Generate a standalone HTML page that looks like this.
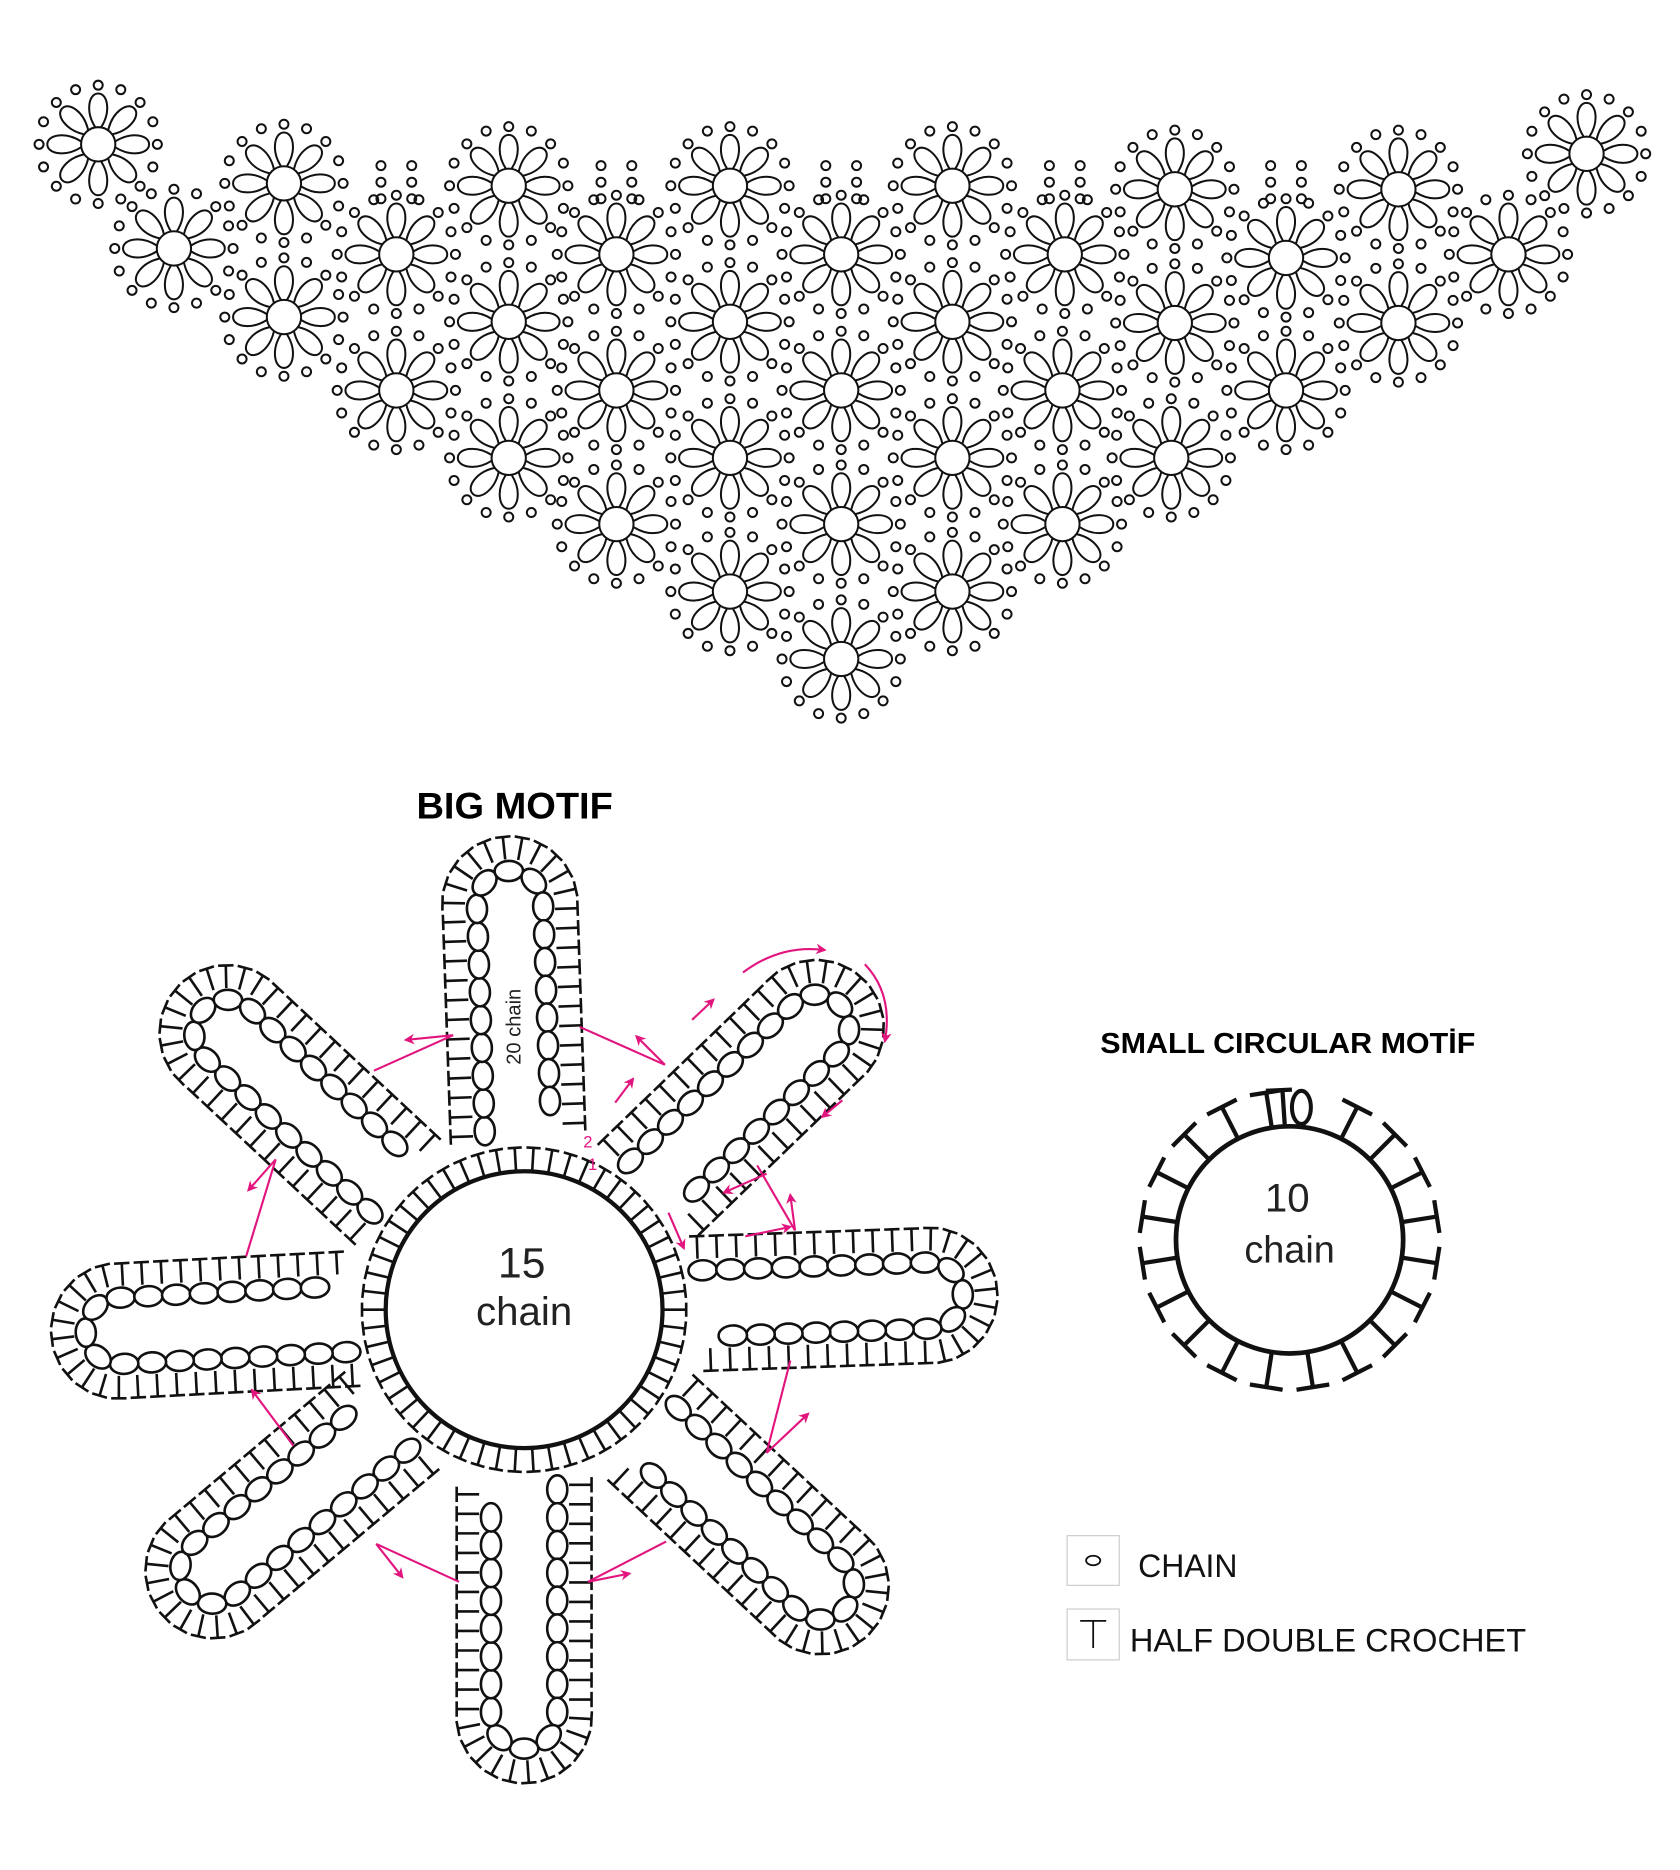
<!DOCTYPE html>
<html><head><meta charset="utf-8">
<style>
html,body{margin:0;padding:0;background:#fff;}
svg{display:block;}
text{font-family:"Liberation Sans",sans-serif;}
</style></head>
<body>
<svg id="s" xmlns="http://www.w3.org/2000/svg" width="1680" height="1870" viewBox="0 0 1420 1580.6">
<defs>
<marker id="ah" viewBox="0 0 10 10" refX="8" refY="5" markerWidth="5" markerHeight="5" orient="auto-start-reverse">
<path d="M0,0 L10,5 L0,10 L3,5 Z" fill="#e2157f"/></marker>
</defs>
<rect width="1420" height="1581" fill="#fff"/>
<g id="gtop" fill="none" stroke="#111" stroke-width="1.7"></g>
<g id="gbig" fill="none" stroke="#111"></g>
<g id="gsmall" fill="none" stroke="#111"></g>
<g id="pink" fill="none" stroke="#e2157f" stroke-width="1.8">
<path d="M316,905 L383,875" /><path d="M383,875 L343,879" marker-end="url(#ah)"/>
<path d="M490,868 L562,900"/><path d="M562,900 L538,876" marker-end="url(#ah)"/>
<path d="M233,980 L208,1062"/><path d="M233,980 L210,1006" marker-end="url(#ah)"/>
<path d="M640,985 L672,1040"/><path d="M672,1040 L668,1010" marker-end="url(#ah)"/>
<path d="M648,992 L612,1008" marker-end="url(#ah)"/>
<path d="M630,1045 L668,1037" marker-end="url(#ah)"/>
<path d="M668,1150 L648,1228"/><path d="M648,1228 L683,1195" marker-end="url(#ah)"/>
<path d="M248,1222 L213,1175" marker-end="url(#ah)"/>
<path d="M318,1305 L388,1337"/><path d="M318,1305 L340,1333" marker-end="url(#ah)"/>
<path d="M563,1303 L497,1337"/><path d="M497,1337 L532,1330" marker-end="url(#ah)"/>
<path d="M628,822 Q660,798 697,803" marker-end="url(#ah)"/>
<path d="M731,815 Q755,840 748,880" marker-end="url(#ah)"/>
<path d="M585,862 L603,845" marker-end="url(#ah)"/>
<path d="M520,932 L535,912" marker-end="url(#ah)"/>
<path d="M565,1025 L578,1055" marker-end="url(#ah)"/>
<path d="M712,930 L695,944" marker-end="url(#ah)"/>
</g>
<g fill="#e2157f" font-size="14"><text x="493" y="970">2</text><text x="497" y="989">1</text></g>
<text x="352" y="692" font-size="31" font-weight="bold" fill="#000" textLength="166" lengthAdjust="spacingAndGlyphs">BIG MOTIF</text>
<text x="930" y="890" font-size="24" font-weight="bold" fill="#000" textLength="317" lengthAdjust="spacingAndGlyphs">SMALL CIRCULAR MOTİF</text>
<text x="441" y="1080" font-size="36" text-anchor="middle" fill="#222">15</text>
<text x="443" y="1120" font-size="34" text-anchor="middle" fill="#222">chain</text>
<text x="1088" y="1024" font-size="34" text-anchor="middle" fill="#222">10</text>
<text x="1090" y="1067" font-size="32" text-anchor="middle" fill="#222">chain</text>
<text transform="translate(440,900) rotate(-90)" font-size="17" fill="#222">20 chain</text>
<rect x="902" y="1298" width="44" height="42" fill="none" stroke="#ccc" stroke-width="1"/>
<ellipse cx="924" cy="1319" rx="6" ry="4" fill="none" stroke="#111" stroke-width="1.5"/>
<text x="962" y="1333" font-size="27" fill="#111">CHAIN</text>
<rect x="902" y="1360" width="44" height="43" fill="none" stroke="#ccc" stroke-width="1"/>
<path d="M913,1370 H935 M924,1370 V1393" stroke="#111" stroke-width="1.5"/>
<text x="955" y="1396" font-size="27" fill="#111" textLength="335" lengthAdjust="spacingAndGlyphs">HALF DOUBLE CROCHET</text>
</svg>
<script>
(function(){
var NS="http://www.w3.org/2000/svg";
function el(p,tag,a){var e=document.createElementNS(NS,tag);for(var k in a)e.setAttribute(k,a[k]);p.appendChild(e);return e;}
var gt=document.getElementById('gtop');
var F=[[83,122],[240,155],[430,157],[617,157],[805,157],[993,160],[1182,160],[1341,130],
[147,210],[335,215],[521,215],[711,215],[900,215],[1087,218],[1275,215],
[240,268],[430,272],[617,272],[805,272],[993,273],[1182,273],
[335,330],[521,330],[711,330],[898,330],[1087,330],
[430,387],[617,387],[805,387],[990,387],
[521,443],[711,443],[898,443],[617,500],[805,500],[711,557]];
F.forEach(function(c){
 var g=el(gt,'g',{transform:'translate('+c[0]+','+c[1]+')'});
 el(g,'circle',{cx:0,cy:0,r:14.5});
 for(var i=0;i<8;i++){
  el(g,'path',{d:'M-2.5,-14.5 C-11,-28 -8,-43 0,-43 C8,-43 11,-28 2.5,-14.5',transform:'rotate('+(i*45)+')'});
 }
 for(var j=0;j<16;j++){var a=j*Math.PI/8;el(g,'circle',{cx:(50*Math.sin(a)).toFixed(1),cy:(-50*Math.cos(a)).toFixed(1),r:3.8});}
});
[335,521,711,900,1087].forEach(function(x){for(var r=0;r<3;r++)for(var k=-1;k<=1;k+=2)el(gt,'circle',{cx:x+k*13,cy:140+r*14,r:3.8});});
var gb=document.getElementById('gbig');var cx=443,cy=1107;
el(gb,'circle',{cx:cx,cy:cy,r:117,'stroke-width':3.6});
for(var i=0;i<54;i++){var a=i*2*Math.PI/54,ca=Math.cos(a),sa=Math.sin(a);
 el(gb,'line',{x1:cx+117*ca,y1:cy+117*sa,x2:cx+137*ca,y2:cy+137*sa,'stroke-width':2.2});
 var tx=-sa,ty=ca,px=cx+137*ca,py=cy+137*sa;
 el(gb,'line',{x1:px-6*tx,y1:py-6*ty,x2:px+6*tx,y2:py+6*ty,'stroke-width':2.2});}
function stadium(a,b,h,step,offset){
 var pts=[];var L1=b-h-a,L2=Math.PI*h,L=2*L1+L2;
 for(var s=offset;s<L-2;s+=step){
  var x,y,tx,ty;
  if(s<L1){x=a+s;y=-h;tx=1;ty=0;}
  else if(s<L1+L2){var t=(s-L1)/h-Math.PI/2;x=b-h+h*Math.cos(t);y=h*Math.sin(t);tx=-Math.sin(t);ty=Math.cos(t);}
  else{x=b-h-(s-L1-L2);y=h;tx=-1;ty=0;}
  pts.push([x,y,tx,ty]);
 }
 return pts;
}
function petal(ang){
 var g=el(gb,'g',{transform:'translate('+cx+','+cy+') rotate('+ang+')','stroke-width':2.2});
 var a=142,b=400,h=57;
 stadium(a,b,h,16.5,6).forEach(function(p){
  var nx=-p[3],ny=p[2];
  el(g,'line',{x1:p[0]-6.5*p[2],y1:p[1]-6.5*p[3],x2:p[0]+6.5*p[2],y2:p[1]+6.5*p[3]});
  el(g,'line',{x1:p[0],y1:p[1],x2:p[0]+19*nx,y2:p[1]+19*ny});
 });
 var h2=h-29,a2=a+10;
 var L=2*(b-29-h2-a2)+Math.PI*h2;var n=Math.round(L/23);var st=L/n;
 stadium(a2,b-29,h2,st,0.01).forEach(function(p){
  var an=Math.atan2(p[3],p[2])*180/Math.PI;
  el(g,'ellipse',{cx:p[0].toFixed(1),cy:p[1].toFixed(1),rx:12,ry:8.5,transform:'rotate('+an.toFixed(1)+' '+p[0].toFixed(1)+' '+p[1].toFixed(1)+')',fill:'#fff'});
 });
}
[-92,-44,-2,43,90,140,177,-137].forEach(petal);
var gs=document.getElementById('gsmall');var sx=1090,sy=1048;
el(gs,'circle',{cx:sx,cy:sy,r:96,'stroke-width':4});
var N=20;for(var i=1;i<N;i++){var a=-Math.PI/2+(i+0.5)*2*Math.PI/N,ca=Math.cos(a),sa=Math.sin(a);
 el(gs,'line',{x1:sx+96*ca,y1:sy+96*sa,x2:sx+126*ca,y2:sy+126*sa,'stroke-width':3.6});
 var tx=-sa,ty=ca,px=sx+126*ca,py=sy+126*sa;
 el(gs,'line',{x1:px-14*tx,y1:py-14*ty,x2:px+14*tx,y2:py+14*ty,'stroke-width':3.6});}
el(gs,'line',{x1:sx-4,y1:sy-96,x2:sx-6,y2:sy-126,'stroke-width':3.6});
el(gs,'line',{x1:sx-20,y1:sy-126,x2:sx+2,y2:sy-127,'stroke-width':3.6});
el(gs,'ellipse',{cx:sx+10,cy:sy-112,rx:8,ry:14,'stroke-width':3.4});
})();
</script>
</body></html>
